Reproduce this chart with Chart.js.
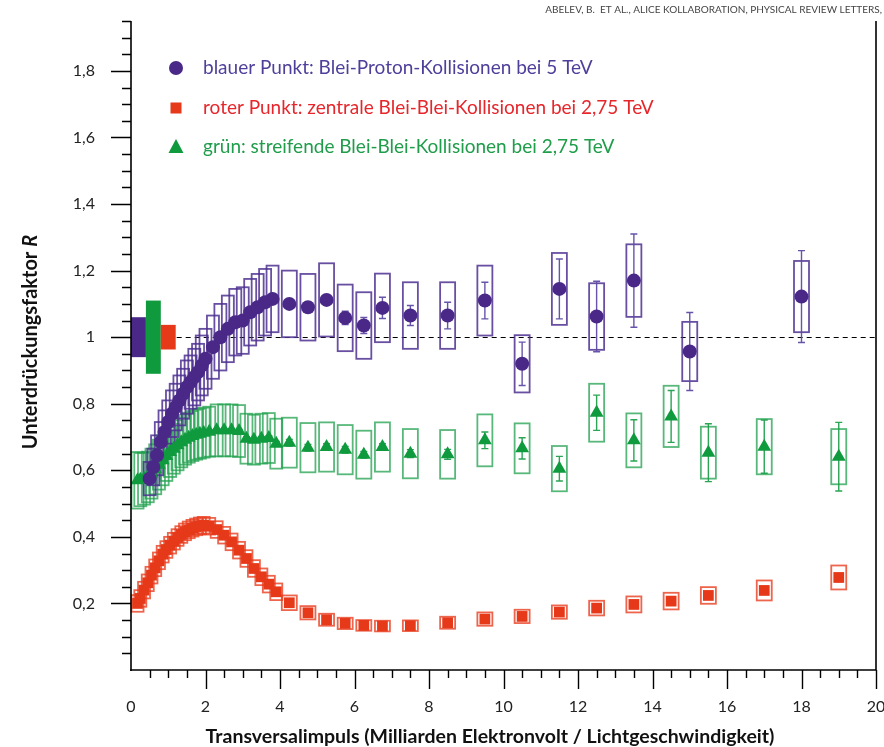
<!DOCTYPE html>
<html><head><meta charset="utf-8">
<script src="https://cdn.jsdelivr.net/npm/chart.js@4/dist/chart.umd.min.js"></script>
<style>html,body{margin:0;padding:0;background:#fff;}</style>
</head><body>
<canvas id="c" width="884" height="747"></canvas>
<script>
// ---------- DATA ----------
const headerText = 'ABELEV, B.  ET AL., ALICE KOLLABORATION, PHYSICAL REVIEW LETTERS,';
const xTitle = 'Transversalimpuls (Milliarden Elektronvolt / Lichtgeschwindigkeit)';
const yTitleMain = 'Unterdrückungsfaktor ';
const yTitleSym = 'R';
const legendLabels = [
  'blauer Punkt: Blei-Proton-Kollisionen bei 5 TeV',
  'roter Punkt: zentrale Blei-Blei-Kollisionen bei 2,75 TeV',
  'grün: streifende Blei-Blei-Kollisionen bei 2,75 TeV'
];
const xTicks = [0, 2, 4, 6, 8, 10, 12, 14, 16, 18, 20];
const yTicks = [0.2, 0.4, 0.6, 0.8, 1.0, 1.2, 1.4, 1.6, 1.8];

// p-Pb (blue / purple)
const pPbX = [0.5,0.6,0.7,0.8,0.9,1.0,1.1,1.2,1.3,1.4,1.5,1.6,1.7,1.8,1.9,2.0,2.2,2.4,2.6,2.8,3.0,3.2,3.4,3.6,3.8,
  4.25,4.75,5.25,5.75,6.25,6.75,7.5,8.5,9.5,10.5,11.5,12.5,13.5,15,18];
const pPbR = [0.575,0.61,0.645,0.685,0.715,0.745,0.77,0.79,0.81,0.83,0.85,0.865,0.88,0.895,0.915,0.935,0.97,1.0,1.025,1.045,1.05,1.075,1.09,1.105,1.115,
  1.10,1.09,1.112,1.058,1.035,1.088,1.065,1.065,1.11,0.92,1.145,1.062,1.17,0.957,1.122];
const pPbStat = [0.004,0.004,0.004,0.004,0.004,0.004,0.004,0.004,0.004,0.004,0.005,0.005,0.005,0.005,0.005,0.005,0.006,0.006,0.006,0.007,0.007,0.008,0.008,0.009,0.01,
  0.012,0.015,0.015,0.02,0.024,0.032,0.03,0.04,0.055,0.065,0.09,0.106,0.14,0.117,0.138];
const pPbSys = [0.05,0.055,0.06,0.06,0.065,0.065,0.07,0.07,0.075,0.075,0.08,0.08,0.085,0.085,0.09,0.09,0.095,0.1,0.1,0.1,0.1,0.1,0.1,0.1,0.1,
  0.1,0.1,0.11,0.1,0.1,0.103,0.1,0.1,0.105,0.086,0.108,0.1,0.109,0.089,0.107];

// Pb-Pb (central red, peripheral green) share the same pT bins
const PbPbX = [0.175,0.25,0.35,0.45,0.55,0.65,0.75,0.85,0.95,1.05,1.15,1.25,1.35,1.45,1.55,1.65,1.75,1.85,1.95,
  2.1,2.3,2.5,2.7,2.9,3.1,3.3,3.5,3.7,3.9,4.25,4.75,5.25,5.75,6.25,6.75,7.5,8.5,9.5,10.5,11.5,12.5,13.5,14.5,15.5,17,19];
const centralR = [0.2,0.215,0.24,0.262,0.285,0.307,0.328,0.348,0.362,0.375,0.387,0.398,0.407,0.415,0.421,0.426,0.43,0.433,0.435,
  0.432,0.422,0.405,0.385,0.36,0.335,0.305,0.28,0.258,0.235,0.202,0.172,0.151,0.14,0.134,0.132,0.133,0.142,0.153,0.161,0.174,0.186,0.197,0.207,0.224,0.239,0.278];
const centralStat = [0.002,0.002,0.002,0.002,0.002,0.002,0.002,0.002,0.002,0.002,0.002,0.002,0.002,0.002,0.002,0.002,0.002,0.002,0.002,
  0.002,0.002,0.002,0.002,0.002,0.002,0.002,0.002,0.002,0.002,0.002,0.002,0.002,0.002,0.002,0.002,0.002,0.003,0.003,0.003,0.004,0.004,0.005,0.005,0.006,0.008,0.012];
const centralSys = [0.025,0.025,0.025,0.025,0.025,0.025,0.025,0.025,0.025,0.025,0.025,0.025,0.025,0.025,0.025,0.025,0.025,0.025,0.025,
  0.025,0.025,0.025,0.025,0.025,0.025,0.025,0.025,0.025,0.025,0.022,0.02,0.018,0.017,0.016,0.016,0.016,0.018,0.02,0.02,0.02,0.022,0.024,0.025,0.025,0.03,0.036];
const periphR = [0.57,0.572,0.575,0.58,0.59,0.603,0.617,0.63,0.643,0.655,0.665,0.675,0.684,0.692,0.698,0.703,0.707,0.71,0.713,
  0.716,0.72,0.72,0.72,0.718,0.695,0.692,0.695,0.697,0.68,0.683,0.668,0.67,0.662,0.647,0.67,0.65,0.648,0.69,0.666,0.605,0.773,0.69,0.762,0.653,0.671,0.641];
const periphStat = [0.005,0.005,0.005,0.005,0.005,0.005,0.005,0.005,0.005,0.005,0.005,0.005,0.005,0.005,0.005,0.005,0.005,0.005,0.005,
  0.005,0.005,0.005,0.005,0.005,0.006,0.006,0.006,0.007,0.007,0.01,0.01,0.01,0.01,0.01,0.01,0.012,0.015,0.025,0.032,0.037,0.053,0.062,0.078,0.087,0.08,0.103];
const periphSys = [0.085,0.08,0.078,0.076,0.075,0.075,0.075,0.075,0.075,0.075,0.075,0.075,0.075,0.075,0.075,0.075,0.075,0.075,0.075,
  0.075,0.078,0.078,0.078,0.078,0.075,0.075,0.075,0.075,0.075,0.075,0.074,0.074,0.074,0.072,0.074,0.074,0.073,0.078,0.075,0.068,0.087,0.081,0.092,0.078,0.083,0.083];

// normalisation uncertainties at R = 1 (p-Pb, peripheral Pb-Pb, central Pb-Pb)
const normUnc = [0.06, 0.11, 0.037];

// ---------- STYLE ----------
const PURPLE = '#4a2887', PURPLE_BOX = 'rgba(78,48,145,0.85)', PURPLE_ERR = 'rgba(95,75,165,0.95)', PURPLE_TXT = '#4f3f9b';
const RED = '#e5391a', RED_BOX = 'rgba(232,62,32,0.8)', RED_TXT = '#e6262b';
const GREEN = '#0f9a3e', GREEN_BOX = 'rgba(32,160,78,0.75)', GREEN_ERR = 'rgba(30,160,75,0.95)', GREEN_TXT = '#1f9d4a';
const FONT = 'Lato, "Open Sans", "Noto Sans", sans-serif';

const pts = (xs, ys) => xs.map((x, i) => ({x, y: ys[i]}));
const fmt = v => {
  if (Math.abs(v) < 1e-9) return '';
  if (Math.abs(v - 1) < 1e-9) return '1';
  return v.toFixed(1).replace('.', ',');
};

const series = [
  {x: pPbX, r: pPbR, stat: pPbStat, sys: pPbSys, box: PURPLE_BOX, err: PURPLE_ERR},
  {x: PbPbX, r: centralR, stat: centralStat, sys: centralSys, box: RED_BOX, err: RED_BOX},
  {x: PbPbX, r: periphR, stat: periphStat, sys: periphSys, box: GREEN_BOX, err: GREEN_ERR}
];

const decor = {
  id: 'decor',
  beforeDatasetsDraw(chart) {
    const {ctx, chartArea: ca, scales: {x, y}} = chart;
    ctx.save();
    const nb = [[0, 0.4, normUnc[0], PURPLE], [0.4, 0.8, normUnc[1], GREEN], [0.8, 1.2, normUnc[2], RED]];
    nb.forEach(([a, b, u, c]) => {
      ctx.fillStyle = c;
      const x0 = x.getPixelForValue(a), x1 = x.getPixelForValue(b);
      const y0 = y.getPixelForValue(1 + u), y1 = y.getPixelForValue(1 - u);
      ctx.fillRect(x0, y0, x1 - x0, y1 - y0);
    });
    ctx.strokeStyle = '#000'; ctx.lineWidth = 1; ctx.setLineDash([5, 4]);
    ctx.beginPath();
    const yy = Math.round(y.getPixelForValue(1)) + 0.5;
    ctx.moveTo(x.getPixelForValue(1.2) + 1, yy); ctx.lineTo(ca.right, yy); ctx.stroke();
    ctx.setLineDash([]);
    [series[2], series[1], series[0]].forEach(s => {
      ctx.strokeStyle = s.box; ctx.lineWidth = 1.8;
      s.x.forEach((xv, i) => {
        const w = xv < 4 ? 12 : 15;
        const px = x.getPixelForValue(xv);
        const yt = y.getPixelForValue(s.r[i] + s.sys[i]), yb = y.getPixelForValue(s.r[i] - s.sys[i]);
        ctx.strokeRect(px - w / 2, yt, w, yb - yt);
      });
    });
    series.forEach(s => {
      ctx.strokeStyle = s.err; ctx.lineWidth = 1.4;
      s.x.forEach((xv, i) => {
        const px = x.getPixelForValue(xv);
        const yt = y.getPixelForValue(s.r[i] + s.stat[i]), yb = y.getPixelForValue(s.r[i] - s.stat[i]);
        ctx.beginPath();
        ctx.moveTo(px, yt); ctx.lineTo(px, yb);
        ctx.moveTo(px - 3.5, yt); ctx.lineTo(px + 3.5, yt);
        ctx.moveTo(px - 3.5, yb); ctx.lineTo(px + 3.5, yb);
        ctx.stroke();
      });
    });
    ctx.restore();
  },
  afterDraw(chart) {
    const {ctx, chartArea: ca, scales: {x, y}} = chart;
    ctx.save();
    ctx.strokeStyle = '#000'; ctx.lineWidth = 1.6;
    ctx.beginPath();
    ctx.moveTo(ca.left, ca.top); ctx.lineTo(ca.left, ca.bottom + 1);
    ctx.moveTo(ca.left - 1, ca.bottom); ctx.lineTo(ca.right, ca.bottom);
    ctx.moveTo(ca.right, ca.top); ctx.lineTo(ca.right, ca.bottom);
    ctx.stroke();
    ctx.lineWidth = 1.4;
    ctx.beginPath();
    for (let i = 1; i <= 39; i++) {
      const py = Math.round(y.getPixelForValue(i * 0.05)) + 0.5;
      const len = i % 4 === 0 ? 20 : 9;
      ctx.moveTo(ca.left - len, py); ctx.lineTo(ca.left, py);
    }
    for (let i = 1; i <= 40; i++) {
      const px = Math.round(x.getPixelForValue(i * 0.5)) + 0.5;
      const len = i % 4 === 0 ? 19 : 8;
      ctx.moveTo(px, ca.bottom); ctx.lineTo(px, ca.bottom + len);
    }
    ctx.stroke();
    // x title
    ctx.fillStyle = '#111'; ctx.textAlign = 'center'; ctx.textBaseline = 'middle';
    ctx.font = 'bold 19.5px ' + FONT;
    ctx.fillText(xTitle, 490, 737);
    // y title
    ctx.translate(31, 342); ctx.rotate(-Math.PI / 2);
    ctx.textBaseline = 'middle';
    const f1 = 'bold 20px ' + FONT, f2 = 'italic bold 20px ' + FONT;
    ctx.font = f1; const w1 = ctx.measureText(yTitleMain).width;
    ctx.font = f2; const w2 = ctx.measureText(yTitleSym).width;
    ctx.font = f1; ctx.textAlign = 'left';
    ctx.fillText(yTitleMain, -(w1 + w2) / 2, 0);
    ctx.font = f2; ctx.fillText(yTitleSym, -(w1 + w2) / 2 + w1, 0);
    ctx.setTransform(1, 0, 0, 1, 0, 0);
    // header
    ctx.font = '10px ' + FONT; ctx.fillStyle = '#444'; ctx.textAlign = 'right'; ctx.textBaseline = 'middle';
    ctx.fillText(headerText, 882, 10);
    // legend
    const rows = [68, 108, 147];
    const mx = 176, tx = 203;
    ctx.textAlign = 'left'; ctx.font = '19px ' + FONT;
    ctx.fillStyle = PURPLE; ctx.beginPath(); ctx.arc(mx, rows[0], 7, 0, Math.PI * 2); ctx.fill();
    ctx.fillStyle = PURPLE_TXT; ctx.fillText(legendLabels[0], tx, rows[0]);
    ctx.fillStyle = RED; ctx.fillRect(mx - 5.5, rows[1] - 5.5, 11, 11);
    ctx.fillStyle = RED_TXT; ctx.fillText(legendLabels[1], tx, rows[1]);
    ctx.fillStyle = GREEN; ctx.beginPath();
    ctx.moveTo(mx, rows[2] - 8); ctx.lineTo(mx + 7.5, rows[2] + 6); ctx.lineTo(mx - 7.5, rows[2] + 6); ctx.closePath(); ctx.fill();
    ctx.fillStyle = GREEN_TXT; ctx.fillText(legendLabels[2], tx, rows[2]);
    ctx.restore();
  }
};

new Chart(document.getElementById('c'), {
  type: 'scatter',
  data: {
    datasets: [
      {label: legendLabels[0], data: pts(pPbX, pPbR), pointStyle: 'circle', pointRadius: 7, backgroundColor: PURPLE, borderWidth: 0},
      {label: legendLabels[1], data: pts(PbPbX, centralR), pointStyle: 'rect', pointRadius: 7.6, backgroundColor: RED, borderWidth: 0},
      {label: legendLabels[2], data: pts(PbPbX, periphR), pointStyle: 'triangle', pointRadius: 8, backgroundColor: GREEN, borderWidth: 0}
    ]
  },
  options: {
    responsive: false, animation: false, devicePixelRatio: 1,
    layout: {padding: {top: 21, right: 3, left: 0, bottom: 0}},
    plugins: {legend: {display: false}, tooltip: {enabled: false}},
    scales: {
      x: {
        type: 'linear', min: 0, max: 20,
        border: {display: false},
        grid: {display: false, drawTicks: false, tickLength: 0},
        afterBuildTicks: s => { s.ticks = xTicks.map(v => ({value: v})); },
        ticks: {color: '#222', font: {family: FONT, size: 16}, padding: 27, maxRotation: 0, autoSkip: false,
          callback: v => String(v)},
        title: {display: false},
        afterFit: s => { s.height = 77; s.paddingLeft = 0; s.paddingRight = 0; }
      },
      y: {
        type: 'linear', min: 0, max: 1.95,
        border: {display: false},
        grid: {display: false, drawTicks: false, tickLength: 0},
        afterBuildTicks: s => { s.ticks = yTicks.map(v => ({value: v})); },
        ticks: {color: '#222', font: {family: FONT, size: 16}, padding: 36, autoSkip: false, callback: v => fmt(v)},
        afterFit: s => { s.width = 131; s.paddingTop = 0; s.paddingBottom = 0; }
      }
    }
  },
  plugins: [decor]
});
</script>
</body></html>
